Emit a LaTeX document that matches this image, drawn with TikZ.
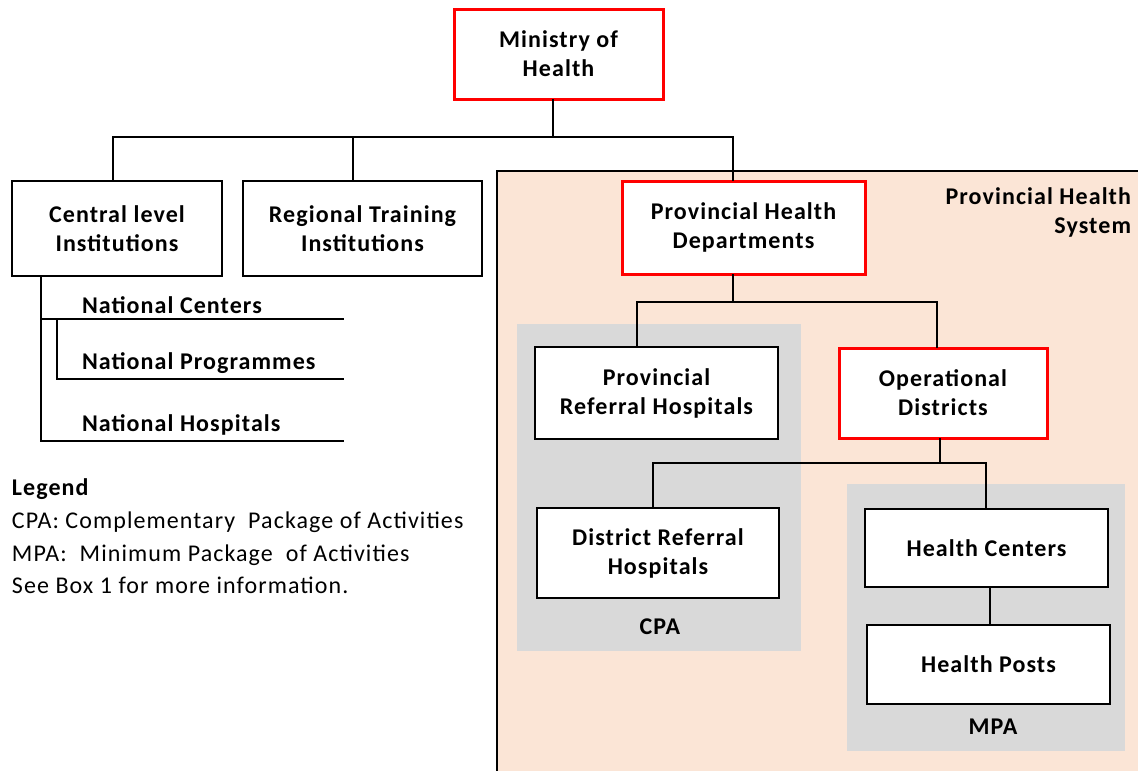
\documentclass[tikz,border=0pt]{standalone}
\usepackage{fontspec}
\setmainfont{Carlito}[LetterSpace=4.5]
\definecolor{peach}{HTML}{FBE5D6}
\definecolor{boxgray}{HTML}{D9D9D9}
\definecolor{boxred}{HTML}{FF0000}
\begin{document}
\begin{tikzpicture}[x=1pt,y=-1pt,
  every node/.style={inner sep=0pt,outer sep=0pt,font=\fontsize{24}{29}\selectfont\bfseries},
  blackbox/.style={draw=black,line width=1.6pt,fill=white,align=center},
  redbox/.style={draw=boxred,line width=3pt,fill=white,align=center},
  link/.style={draw=black,line width=1.4pt},
  lbl/.style={anchor=west,align=left},
  legendtext/.style={anchor=west,font=\fontsize{24}{29}\selectfont}
]
\useasboundingbox (0,0) rectangle (1138,771);
% provincial area
\fill[peach] (497,171) rectangle (1138,771);
\draw[line width=1.4pt] (497,771) -- (497,171) -- (1138,171);
\fill[boxgray] (517,324) rectangle (801,651);
\fill[boxgray] (847,484) rectangle (1125,751);

% boxes
\node[redbox,minimum width=209pt,minimum height=90pt] (moh) at (558.5,54) {Ministry of\\Health};
\node[blackbox,minimum width=210pt,minimum height=95pt] (cli) at (117,228.5) {Central level\\Institutions};
\node[blackbox,minimum width=239pt,minimum height=95pt] (rti) at (362.5,228.5) {Regional Training\\Institutions};
\node[redbox,minimum width=243pt,minimum height=93pt] (phd) at (743.5,227.5) {Provincial Health\\Departments};
\node[blackbox,minimum width=243pt,minimum height=92pt] (prh) at (656.5,393) {Provincial\\Referral Hospitals};
\node[redbox,minimum width=208pt,minimum height=90pt] (od) at (943,393) {Operational\\Districts};
\node[blackbox,minimum width=242pt,minimum height=90pt] (drh) at (658,553) {District Referral\\Hospitals};
\node[blackbox,minimum width=243pt,minimum height=78pt] (hc) at (986.5,548) {Health Centers};
\node[blackbox,minimum width=243pt,minimum height=79pt] (hp) at (988.5,664.5) {Health Posts};

\node[anchor=north east,align=right] (phs) at (1131,188) {Provincial Health\\System};
\node (cpa) at (660,627) {CPA};
\node (mpa) at (993,727) {MPA};

% national sub-items
\node[lbl] (nc) at (82,305) {National Centers};
\node[lbl] (np) at (82,363) {National Programmes};
\node[lbl] (nh) at (82,425) {National Hospitals};
\coordinate (brk) at (41,441);
\draw[link] ([xshift=-76pt]cli.south) -- (brk) -- (344,441);
\draw[link] (41,319) -- (344,319);
\draw[link] (57,319) -- (57,379) -- (344,379);

% legend
\node[anchor=west] (leg) at (12,489) {Legend};
\node[legendtext] (l1) at (12,522) {CPA: Complementary\ \ Package of Activities};
\node[legendtext] (l2) at (12,555) {MPA:\ \ Minimum Package\ \ of Activities};
\node[legendtext] (l3) at (12,585) {See Box 1 for more information.};

% connectors
\coordinate (bus) at (553,137);
\draw[link] ([xshift=-5.5pt]moh.south) -- ([xshift=-5.5pt]moh.south |- bus);
\draw[link] ([xshift=-4pt]cli.north) -- ([xshift=-4pt]cli.north |- bus) -- ([xshift=-10.5pt]phd.north |- bus) -- ([xshift=-10.5pt]phd.north);
\draw[link] ([xshift=-9.5pt]rti.north) -- ([xshift=-9.5pt]rti.north |- bus);

\coordinate (bar1) at (733,302);
\draw[link] ([xshift=-10.5pt]phd.south) -- ([xshift=-10.5pt]phd.south |- bar1);
\draw[link] ([xshift=-19.5pt]prh.north) -- ([xshift=-19.5pt]prh.north |- bar1) -- ([xshift=-6pt]od.north |- bar1) -- ([xshift=-6pt]od.north);

\coordinate (bar2) at (940,463);
\draw[link] ([xshift=-3pt]od.south) -- ([xshift=-3pt]od.south |- bar2);
\draw[link] ([xshift=-5pt]drh.north) -- ([xshift=-5pt]drh.north |- bar2) -- ([xshift=-0.5pt]hc.north |- bar2) -- ([xshift=-0.5pt]hc.north);

\draw[link] ([xshift=3.5pt]hc.south) -- ([xshift=1.5pt]hp.north);
\end{tikzpicture}
\end{document}
